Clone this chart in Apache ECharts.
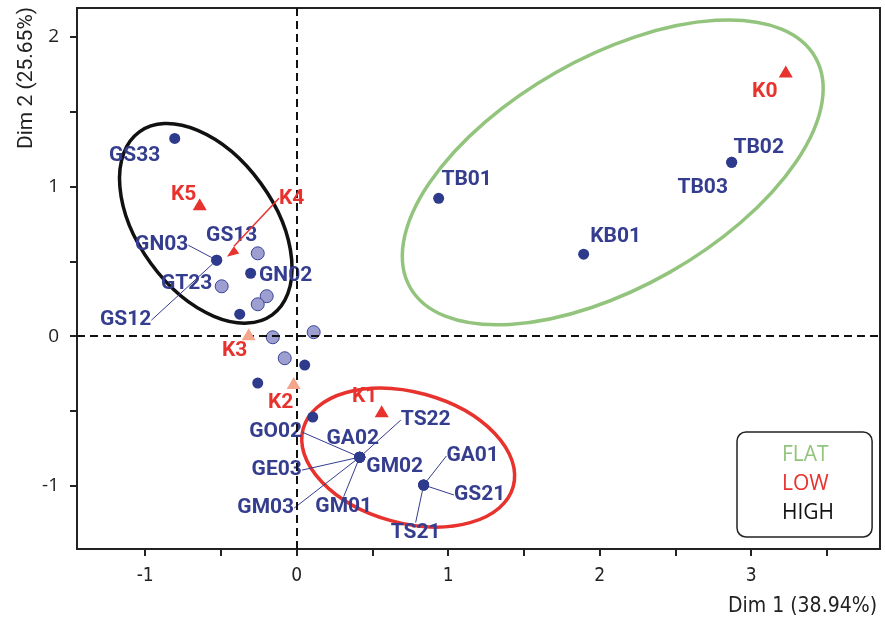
<!DOCTYPE html>
<html>
<head>
<meta charset="utf-8">
<script src="https://cdn.jsdelivr.net/npm/echarts@6/dist/echarts.min.js"></script>
<style>
  html, body { margin: 0; padding: 0; background: #fff; }
  #chart { width: 885px; height: 625px; }
</style>
</head>
<body>
<div id="chart"></div>
<script>
// individual samples (dark markers)
const darkNames = ['GS33', 'TB01', 'KB01', 'TB02', 'TB03', 'GN03', 'GS12', 'GN02', '', '', '', '',
  'GO02', 'GA02', 'GE03', 'GM03', 'GM01', 'GM02', 'TS22', 'GA01', 'GS21', 'TS21'];
const darkDim1 = [-0.805, 0.937, 1.894, 2.871, 2.871, -0.528, -0.528, -0.304, -0.376, 0.053, -0.257, 0.106,
  0.416, 0.416, 0.416, 0.416, 0.416, 0.416, 0.416, 0.838, 0.838, 0.838];
const darkDim2 = [1.32, 0.92, 0.547, 1.16, 1.16, 0.507, 0.507, 0.42, 0.147, -0.193, -0.313, -0.54,
  -0.807, -0.807, -0.807, -0.807, -0.807, -0.807, -0.807, -0.993, -0.993, -0.993];

// individual samples (light markers)
const lightNames = ['GS13', 'GT23', '', '', '', '', ''];
const lightDim1 = [-0.257, -0.495, -0.198, -0.257, -0.158, 0.112, -0.079];
const lightDim2 = [0.553, 0.333, 0.267, 0.213, -0.007, 0.027, -0.147];

// cluster centres
const groupNames = ['K0', 'K1', 'K2', 'K3', 'K4', 'K5'];
const groupDim1 = [3.228, 0.561, -0.02, -0.317, -0.429, -0.64];
const groupDim2 = [1.767, -0.5, -0.313, 0.013, 0.553, 0.88];
const groupKind = ['main', 'main', 'faint', 'faint', 'arrow', 'main'];

// confidence ellipses
const ellipseNames = ['FLAT', 'LOW', 'HIGH'];
const ellipseDim1 = [2.086, 0.736, -0.6];
const ellipseDim2 = [1.093, -0.81, 0.753];
const ellipseMajor = [1.538, 0.719, 0.746];
const ellipseMinor = [0.759, 0.432, 0.449];
const ellipseAngle = [29.6, -15.4, -54];

// axis ticks
const xTicks = [-1, -0.5, 0, 0.5, 1, 1.5, 2, 2.5, 3, 3.5];
const xLabels = [-1, 0, 1, 2, 3];
const yTicks = [-1, -0.5, 0, 0.5, 1, 1.5, 2];
const yLabels = [-1, 0, 1, 2];

// colours
const navy = '#2e3a8c';
const labelNavy = '#353d8e';
const red = '#e8322e';
const ellipseColors = { FLAT: '#93c47d', LOW: '#e8322e', HIGH: '#111111' };

// label offsets in pixels from the marker
const labelPlacement = {
  GS33: { dx: -40, dy: 17 },
  TB01: { dx: 28, dy: -19 },
  KB01: { dx: 32, dy: -17 },
  TB02: { dx: 27, dy: -15 },
  TB03: { dx: -29, dy: 25 },
  GN03: { dx: -55, dy: -15, line: true },
  GS12: { dx: -91, dy: 60, line: true },
  GN02: { dx: 35, dy: 2 },
  GS13: { dx: -26, dy: -18 },
  GT23: { dx: -35, dy: -3 },
  GO02: { dx: -84, dy: -25, line: true },
  GA02: { dx: -7, dy: -18 },
  GE03: { dx: -83, dy: 13, line: true },
  GM03: { dx: -94, dy: 51, line: true },
  GM01: { dx: -16, dy: 50, line: true },
  GM02: { dx: 35, dy: 10 },
  TS22: { dx: 66, dy: -37, line: true },
  GA01: { dx: 49, dy: -29, line: true },
  GS21: { dx: 56, dy: 10, line: true },
  TS21: { dx: -8, dy: 48, line: true },
  K0: { dx: -21, dy: 20 },
  K1: { dx: -17, dy: -14 },
  K2: { dx: -13, dy: 20 },
  K3: { dx: -14, dy: 17 },
  K4: { dx: 60, dy: -55, line: true },
  K5: { dx: -16, dy: -10 }
};

const labelFont = 'Roboto, "Noto Sans", sans-serif';
const axisFont = '"Open Sans", "Noto Sans", sans-serif';
const narrowFont = '"Liberation Sans Narrow", "DejaVu Sans Condensed", Roboto, sans-serif';

function buildItems(names, d1, d2) {
  return names.map((n, i) => {
    const lay = labelPlacement[n];
    return {
      name: n,
      value: [d1[i], d2[i]],
      label: { show: !!lay },
      labelLine: { show: !!(lay && lay.line) }
    };
  });
}

function placeLabel(params) {
  const lay = labelPlacement[params.text];
  if (!lay) return {};
  return {
    x: params.rect.x + params.rect.width / 2 + lay.dx,
    y: params.rect.y + params.rect.height / 2 + lay.dy,
    align: 'center',
    verticalAlign: 'middle'
  };
}

const groupItems = groupNames.map((n, i) => {
  const kind = groupKind[i];
  const item = {
    name: n,
    value: [groupDim1[i], groupDim2[i]],
    label: { show: true },
    labelLine: { show: !!labelPlacement[n].line, lineStyle: { color: red, width: 1.5, opacity: 1 } },
    itemStyle: { color: kind === 'faint' ? '#f4a68c' : red, opacity: 1 }
  };
  if (kind === 'arrow') {
    item.symbolSize = [9, 12];
    item.symbolRotate = 125.6;
  }
  return item;
});

const ellipseSeries = ellipseNames.map((n, i) => ({
  name: n,
  type: 'custom',
  z: 1,
  silent: true,
  data: [[ellipseDim1[i], ellipseDim2[i], ellipseMajor[i], ellipseMinor[i], ellipseAngle[i]]],
  renderItem(params, api) {
    const c = api.coord([api.value(0), api.value(1)]);
    const unit = api.size([1, 1])[0];
    const a = api.value(2) * unit;
    const b = api.value(3) * unit;
    const deg = api.value(4);
    const t = deg * Math.PI / 180;
    const ex = a * Math.cos(t);
    const ey = -a * Math.sin(t);
    const p1 = [c[0] + ex, c[1] + ey];
    const p2 = [c[0] - ex, c[1] - ey];
    const rot = -deg;
    const d = 'M' + p1[0] + ',' + p1[1] +
      ' A' + a + ',' + b + ' ' + rot + ' 1 0 ' + p2[0] + ',' + p2[1] +
      ' A' + a + ',' + b + ' ' + rot + ' 1 0 ' + p1[0] + ',' + p1[1] + ' Z';
    return {
      type: 'path',
      shape: { pathData: d },
      style: { fill: 'none', stroke: ellipseColors[n], lineWidth: 3.5 }
    };
  }
}));

const sampleLabel = {
  fontSize: 21,
  fontWeight: 'bold',
  fontFamily: labelFont,
  color: labelNavy,
  opacity: 1,
  formatter: '{b}'
};

const chart = echarts.init(document.getElementById('chart'));

chart.setOption({
  backgroundColor: '#ffffff',
  animation: false,
  grid: {
    left: 77,
    right: 5,
    top: 8,
    bottom: 76,
    show: true,
    borderColor: '#222',
    borderWidth: 2
  },
  legend: {
    data: ellipseNames.map(n => ({ name: n, textStyle: { color: ellipseColors[n] } })),
    icon: 'none',
    orient: 'vertical',
    left: 737,
    top: 432,
    itemWidth: 0,
    itemHeight: 20,
    itemGap: 8,
    padding: [13, 38, 13, 40],
    borderColor: '#222',
    borderWidth: 1.5,
    borderRadius: 9,
    selectedMode: false,
    textStyle: { fontSize: 21, fontFamily: axisFont }
  },
  xAxis: {
    type: 'value',
    min: -1.45,
    max: 3.85,
    axisLine: { show: true, onZero: false, lineStyle: { color: '#222', width: 2 } },
    axisTick: { show: true, length: 7, customValues: xTicks, lineStyle: { color: '#222', width: 2 } },
    axisLabel: { customValues: xLabels, fontSize: 19, color: '#222', margin: 18, fontFamily: narrowFont },
    splitLine: { show: false }
  },
  yAxis: {
    type: 'value',
    min: -1.42,
    max: 2.19,
    axisLine: { show: true, onZero: false, lineStyle: { color: '#222', width: 2 } },
    axisTick: { show: true, length: 7, customValues: yTicks, lineStyle: { color: '#222', width: 2 } },
    axisLabel: { customValues: yLabels, fontSize: 19, color: '#222', margin: 18, fontFamily: axisFont },
    splitLine: { show: false }
  },
  graphic: [
    {
      type: 'text',
      x: 877,
      y: 607,
      style: {
        text: 'Dim 1 (38.94%)',
        fill: '#222',
        fontSize: 21,
        fontFamily: narrowFont,
        textAlign: 'right',
        textVerticalAlign: 'middle'
      }
    },
    {
      type: 'text',
      x: 27,
      y: 78,
      rotation: Math.PI / 2,
      style: {
        text: 'Dim 2 (25.65%)',
        fill: '#222',
        fontSize: 21,
        fontFamily: labelFont,
        textAlign: 'center',
        textVerticalAlign: 'middle'
      }
    }
  ],
  series: [
    ...ellipseSeries,
    {
      name: 'light',
      type: 'scatter',
      z: 3,
      symbolSize: 13,
      itemStyle: { color: '#9d9fd1', borderColor: '#3b4396', borderWidth: 1, opacity: 1 },
      label: sampleLabel,
      labelLayout: placeLabel,
      emphasis: { disabled: true },
      data: buildItems(lightNames, lightDim1, lightDim2),
      markLine: {
        silent: true,
        symbol: 'none',
        label: { show: false },
        lineStyle: { color: '#111', width: 2, type: [8, 5], opacity: 1 },
        data: [{ xAxis: 0 }, { yAxis: 0 }]
      }
    },
    {
      name: 'dark',
      type: 'scatter',
      z: 4,
      symbolSize: 11,
      itemStyle: { color: navy, opacity: 1 },
      label: sampleLabel,
      labelLine: { lineStyle: { color: labelNavy, width: 1, opacity: 1 } },
      labelLayout: placeLabel,
      emphasis: { disabled: true },
      data: buildItems(darkNames, darkDim1, darkDim2)
    },
    {
      name: 'groups',
      type: 'scatter',
      z: 5,
      symbol: 'triangle',
      symbolSize: [14, 12],
      label: Object.assign({}, sampleLabel, { color: red }),
      labelLayout: placeLabel,
      emphasis: { disabled: true },
      data: groupItems
    }
  ]
});
</script>
</body>
</html>
